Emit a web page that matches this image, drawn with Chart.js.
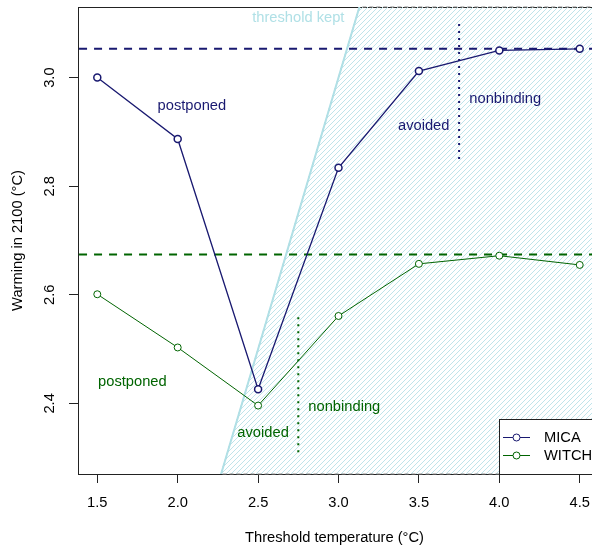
<!DOCTYPE html>
<html lang="en">
<head>
<meta charset="UTF-8">
<title>Warming in 2100 vs threshold temperature</title>
<script src="https://cdn.jsdelivr.net/npm/chart.js"></script>
<style>
  html, body { margin: 0; padding: 0; background: #fff; overflow: hidden; }
</style>
</head>
<body>
<canvas id="chart" width="610" height="549"></canvas>
<script>
// data
const thresholds = [1.5, 2.0, 2.5, 3.0, 3.5, 4.0, 4.5];
const micaWarming = [3.000, 2.887, 2.426, 2.834, 3.012, 3.050, 3.053];
const witchWarming = [2.601, 2.503, 2.396, 2.561, 2.657, 2.672, 2.655];

const micaNoThreshold = 3.053;   // dashed reference levels
const witchNoThreshold = 2.674;

const micaSplit = { x: 3.75, from: 2.85, to: 3.10 };   // dotted dividers
const witchSplit = { x: 2.75, from: 2.31, to: 2.56 };

const xTicks = [1.5, 2.0, 2.5, 3.0, 3.5, 4.0, 4.5];
const yTicks = [2.4, 2.6, 2.8, 3.0];
const xRange = [1.38, 4.62];
const yRange = [2.270, 3.130];

const NAVY = '#191970';
const GREEN = '#006400';
const PALE = '#b0e0e6';
const FONT = "'Liberation Sans', Arial, Helvetica, sans-serif";
const FSIZE = 14.7;

// text labels placed in data coordinates
const notes = [
  { text: 'threshold kept', x: 2.75, y: 3.109, color: PALE },
  { text: 'postponed', x: 2.088, y: 2.948, color: NAVY },
  { text: 'avoided', x: 3.530, y: 2.911, color: NAVY },
  { text: 'nonbinding', x: 4.037, y: 2.961, color: NAVY },
  { text: 'postponed', x: 1.718, y: 2.440, color: GREEN },
  { text: 'avoided', x: 2.531, y: 2.345, color: GREEN },
  { text: 'nonbinding', x: 3.036, y: 2.394, color: GREEN }
];

// hatch pattern for the "threshold kept" region
function hatchPattern() {
  const s = 5;
  const c = document.createElement('canvas');
  c.width = s; c.height = s;
  const g = c.getContext('2d');
  g.strokeStyle = '#bfe4ea';
  g.lineWidth = 1;
  g.beginPath();
  g.moveTo(-1, s + 1); g.lineTo(s + 1, -1);
  g.moveTo(-1, 1); g.lineTo(1, -1);
  g.moveTo(s - 1, s + 1); g.lineTo(s + 1, s - 1);
  g.stroke();
  return g.createPattern(c, 'repeat');
}

const pts = (xs, ys) => xs.map((x, i) => ({ x: x, y: ys[i] }));

const keptRegion = [
  { x: yRange[0], y: yRange[0] },
  { x: yRange[1], y: yRange[1] },
  { x: 4.8, y: yRange[1] },
  { x: 4.8, y: yRange[0] },
  { x: yRange[0], y: yRange[0] }
];

const plain = { pointRadius: 0, pointHoverRadius: 0, fill: false, tension: 0 };

const boxPlugin = {
  id: 'box',
  beforeDatasetsDraw(chart) {
    const { ctx, chartArea: a } = chart;
    ctx.save();
    ctx.strokeStyle = '#222';
    ctx.lineWidth = 1;
    ctx.strokeRect(Math.round(a.left) + 0.5, Math.round(a.top) + 0.5,
      Math.round(a.right - a.left), Math.round(a.bottom - a.top));
    ctx.restore();
  }
};

const textPlugin = {
  id: 'texts',
  afterDatasetsDraw(chart) {
    const { ctx, chartArea: a, scales } = chart;
    const sx = scales.x, sy = scales.y;
    ctx.save();
    ctx.font = FSIZE + 'px ' + FONT;
    ctx.textAlign = 'center';
    ctx.textBaseline = 'middle';
    notes.forEach(n => {
      ctx.fillStyle = n.color;
      ctx.fillText(n.text, sx.getPixelForValue(n.x), sy.getPixelForValue(n.y));
    });

    // y tick labels, rotated like R
    ctx.fillStyle = '#000';
    yTicks.forEach(v => {
      ctx.save();
      ctx.translate(a.left - 28, sy.getPixelForValue(v));
      ctx.rotate(-Math.PI / 2);
      ctx.fillText(v.toFixed(1), 0, 0);
      ctx.restore();
    });

    // axis titles
    ctx.fillText('Threshold temperature (\u00b0C)', (a.left + a.right) / 2 - 4, 537.5);
    ctx.save();
    ctx.translate(18, (a.top + a.bottom) / 2);
    ctx.rotate(-Math.PI / 2);
    ctx.fillText('Warming in 2100 (\u00b0C)', 0, 0);
    ctx.restore();

    // legend, bottom right of the plot
    const lx = 499, ly = 419;
    ctx.fillStyle = '#fff';
    ctx.fillRect(lx, ly, a.right - lx, a.bottom - ly);
    ctx.strokeStyle = '#222';
    ctx.lineWidth = 1;
    ctx.strokeRect(lx + 0.5, ly + 0.5, a.right - lx, a.bottom - ly);
    [['MICA', NAVY, 437.5], ['WITCH', GREEN, 455.5]].forEach(([name, col, y]) => {
      ctx.strokeStyle = col;
      ctx.beginPath();
      ctx.moveTo(503, y); ctx.lineTo(530, y);
      ctx.stroke();
      ctx.fillStyle = '#fff';
      ctx.beginPath();
      ctx.arc(516.5, y, 3.5, 0, Math.PI * 2);
      ctx.fill(); ctx.stroke();
      ctx.fillStyle = '#000';
      ctx.textAlign = 'left';
      ctx.fillText(name, 544, y + 0.5);
    });
    ctx.restore();
  }
};

new Chart(document.getElementById('chart'), {
  type: 'line',
  data: {
    datasets: [
      {
        label: 'MICA', data: pts(thresholds, micaWarming),
        borderColor: NAVY, borderWidth: 1.3, backgroundColor: '#fff',
        pointRadius: 3.5, pointBorderWidth: 1.5, pointBackgroundColor: '#fff',
        pointBorderColor: NAVY, fill: false, tension: 0
      },
      {
        label: 'WITCH', data: pts(thresholds, witchWarming),
        borderColor: GREEN, borderWidth: 1, backgroundColor: '#fff',
        pointRadius: 3.5, pointBorderWidth: 1, pointBackgroundColor: '#fff',
        pointBorderColor: GREEN, fill: false, tension: 0
      },
      Object.assign({ label: 'mica split', data: [{ x: micaSplit.x, y: micaSplit.from }, { x: micaSplit.x, y: micaSplit.to }],
        borderColor: NAVY, borderWidth: 2, borderDash: [2, 5] }, plain),
      Object.assign({ label: 'witch split', data: [{ x: witchSplit.x, y: witchSplit.from }, { x: witchSplit.x, y: witchSplit.to }],
        borderColor: GREEN, borderWidth: 2, borderDash: [2, 5] }, plain),
      Object.assign({ label: 'mica ref', data: [{ x: 1.2, y: micaNoThreshold }, { x: 4.8, y: micaNoThreshold }],
        borderColor: NAVY, borderWidth: 2, borderDash: [8, 7] }, plain),
      Object.assign({ label: 'witch ref', data: [{ x: 1.2, y: witchNoThreshold }, { x: 4.8, y: witchNoThreshold }],
        borderColor: GREEN, borderWidth: 2, borderDash: [8, 7] }, plain),
      Object.assign({ label: 'diagonal', data: [{ x: 2.2, y: 2.2 }, { x: 3.2, y: 3.2 }],
        borderColor: PALE, borderWidth: 2 }, plain),
      Object.assign({ label: 'kept', data: keptRegion, borderColor: '#888', borderWidth: 1,
        borderDash: [4, 3], clip: 2 }, plain, { fill: 'shape', backgroundColor: hatchPattern() })
    ]
  },
  options: {
    responsive: false,
    animation: false,
    devicePixelRatio: 1,
    layout: { padding: { left: 0, top: 7, right: 11, bottom: 0 } },
    plugins: { legend: { display: false }, tooltip: { enabled: false } },
    scales: {
      x: {
        type: 'linear', min: xRange[0], max: xRange[1],
        afterFit: s => { s.height = 75; },
        afterBuildTicks: s => { s.ticks = xTicks.map(v => ({ value: v })); },
        grid: { display: true, drawOnChartArea: false, drawTicks: true, tickLength: 9, color: '#222' },
        border: { display: false },
        ticks: { color: '#000', font: { family: FONT, size: FSIZE }, padding: 11,
          maxRotation: 0, callback: v => Number(v).toFixed(1) }
      },
      y: {
        type: 'linear', min: yRange[0], max: yRange[1],
        afterFit: s => { s.width = 78; },
        afterBuildTicks: s => { s.ticks = yTicks.map(v => ({ value: v })); },
        grid: { display: true, drawOnChartArea: false, drawTicks: true, tickLength: 9, color: '#222' },
        border: { display: false },
        ticks: { display: false }
      }
    }
  },
  plugins: [boxPlugin, textPlugin]
});
</script>
</body>
</html>
